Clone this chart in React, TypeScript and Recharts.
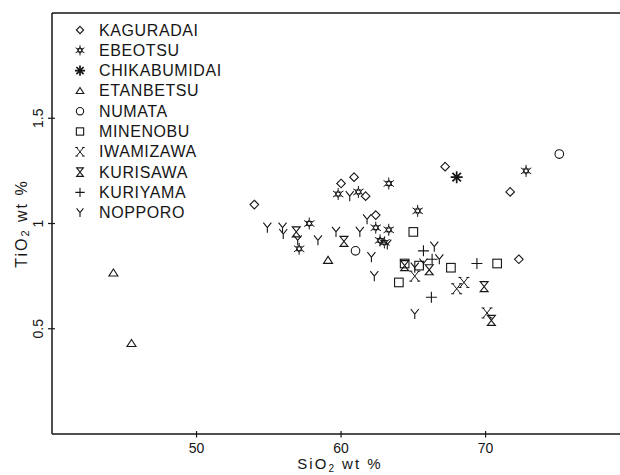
import { ScatterChart, Scatter, XAxis, YAxis, ReferenceLine, Legend } from 'recharts'

type Pt = { x: number; y: number }

const INK = '#161616'
const FONT = '"Liberation Sans", Arial, sans-serif'

const kaguradai: Pt[] = [
  { x: 54.0, y: 1.09 }, { x: 60.0, y: 1.19 }, { x: 60.9, y: 1.22 }, { x: 61.7, y: 1.13 },
  { x: 62.4, y: 1.04 }, { x: 67.2, y: 1.27 }, { x: 71.7, y: 1.15 }, { x: 72.3, y: 0.83 }
]
const ebeotsu: Pt[] = [
  { x: 57.1, y: 0.88 }, { x: 57.8, y: 1.0 }, { x: 59.8, y: 1.14 }, { x: 61.2, y: 1.15 },
  { x: 63.3, y: 1.19 }, { x: 62.4, y: 0.98 }, { x: 63.3, y: 0.97 }, { x: 62.7, y: 0.92 },
  { x: 63.0, y: 0.91 }, { x: 65.3, y: 1.06 }, { x: 72.8, y: 1.25 }
]
const chikabumidai: Pt[] = [{ x: 68.0, y: 1.22 }]
const etanbetsu: Pt[] = [{ x: 44.25, y: 0.765 }, { x: 45.5, y: 0.43 }, { x: 59.1, y: 0.825 }]
const numata: Pt[] = [{ x: 61.0, y: 0.87 }, { x: 75.1, y: 1.33 }]
const minenobu: Pt[] = [
  { x: 65.0, y: 0.96 }, { x: 64.0, y: 0.72 }, { x: 67.6, y: 0.79 }, { x: 70.8, y: 0.81 },
  { x: 65.4, y: 0.8 }, { x: 64.4, y: 0.81 }
]
const iwamizawa: Pt[] = [{ x: 65.1, y: 0.75 }, { x: 68.0, y: 0.69 }, { x: 68.5, y: 0.72 }, { x: 70.1, y: 0.575 }]
const kurisawa: Pt[] = [
  { x: 56.9, y: 0.96 }, { x: 60.2, y: 0.915 }, { x: 64.4, y: 0.8 }, { x: 66.1, y: 0.78 },
  { x: 69.9, y: 0.7 }, { x: 70.4, y: 0.54 }
]
const kuriyama: Pt[] = [{ x: 65.7, y: 0.87 }, { x: 66.3, y: 0.83 }, { x: 69.4, y: 0.81 }, { x: 66.25, y: 0.65 }]
const nopporo: Pt[] = [
  { x: 54.9, y: 0.98 }, { x: 55.95, y: 0.98 }, { x: 56.0, y: 0.95 }, { x: 57.0, y: 0.92 },
  { x: 58.4, y: 0.92 }, { x: 59.65, y: 0.96 }, { x: 61.3, y: 0.96 }, { x: 62.1, y: 0.84 },
  { x: 62.3, y: 0.75 }, { x: 60.6, y: 1.13 }, { x: 61.8, y: 1.02 }, { x: 63.2, y: 0.9 },
  { x: 66.45, y: 0.89 }, { x: 66.8, y: 0.83 }, { x: 65.1, y: 0.79 }, { x: 65.1, y: 0.57 },
  { x: 65.7, y: 0.81 }
]

const xTicks = [50, 60, 70]
const yTicks = [0.5, 1, 1.5]

const series = [
  { name: 'KAGURADAI', kind: 'diamond', data: kaguradai },
  { name: 'EBEOTSU', kind: 'star', data: ebeotsu },
  { name: 'CHIKABUMIDAI', kind: 'asterisk', data: chikabumidai },
  { name: 'ETANBETSU', kind: 'triangle', data: etanbetsu },
  { name: 'NUMATA', kind: 'circle', data: numata },
  { name: 'MINENOBU', kind: 'square', data: minenobu },
  { name: 'IWAMIZAWA', kind: 'cross', data: iwamizawa },
  { name: 'KURISAWA', kind: 'hourglass', data: kurisawa },
  { name: 'KURIYAMA', kind: 'plus', data: kuriyama },
  { name: 'NOPPORO', kind: 'y', data: nopporo }
]

function Mark({ kind, cx, cy, k = 1 }: { kind: string; cx: number; cy: number; k?: number }) {
  const s = { fill: 'none', stroke: INK, strokeWidth: 1.1 }
  const p = (pts: number[][]) => pts.map((q, i) => `${i ? 'L' : 'M'}${cx + q[0] * k},${cy + q[1] * k}`).join('')
  switch (kind) {
    case 'diamond':
      return <path d={p([[0, -4.3], [4.3, 0], [0, 4.3], [-4.3, 0]]) + 'Z'} {...s} />
    case 'circle':
      return <circle cx={cx} cy={cy} r={4.3 * k} {...s} />
    case 'square':
      return <rect x={cx - 4.3 * k} y={cy - 4.3 * k} width={8.6 * k} height={8.6 * k} {...s} />
    case 'triangle':
      return <path d={p([[0, -4], [4.5, 3], [-4.5, 3]]) + 'Z'} {...s} />
    case 'plus':
      return <path d={p([[-5.5, 0], [5.5, 0]]) + p([[0, -5.5], [0, 5.5]])} {...s} />
    case 'y':
      return <path d={p([[-4, -5], [0, 0], [4, -5]]) + p([[0, 0], [0, 5]])} {...s} />
    case 'hourglass':
      return <path d={p([[-4, -5], [4, -5], [-4, 5], [4, 5]]) + 'Z'} {...s} />
    case 'cross':
      return (
        <path
          d={p([[-4, -5], [4, 5]]) + p([[4, -5], [-4, 5]]) +
            p([[-5.5, -5], [-2.5, -5]]) + p([[2.5, -5], [5.5, -5]]) +
            p([[-5.5, 5], [-2.5, 5]]) + p([[2.5, 5], [5.5, 5]])}
          {...s}
          strokeWidth={1}
        />
      )
    case 'asterisk': {
      const d = [0, 45, 90, 135].map(a => {
        const r = 6
        const dx = r * Math.cos((a * Math.PI) / 180)
        const dy = r * Math.sin((a * Math.PI) / 180)
        return p([[-dx, -dy], [dx, dy]])
      }).join('')
      return <path d={d} fill="none" stroke={INK} strokeWidth={1.7} />
    }
    case 'star': {
      const tri = (o: number) => [0, 120, 240].map(a => {
        const t = ((a + o - 90) * Math.PI) / 180
        return [3.8 * Math.cos(t), 3.8 * Math.sin(t)]
      })
      const rays = [0, 60, 120, 180, 240, 300].map(a => {
        const t = ((a - 90) * Math.PI) / 180
        return p([[3.8 * Math.cos(t), 3.8 * Math.sin(t)], [6 * Math.cos(t), 6 * Math.sin(t)]])
      }).join('')
      return <path d={p(tri(0)) + 'Z' + p(tri(60)) + 'Z' + rays} {...s} strokeWidth={1} />
    }
    default:
      return null
  }
}

function XTick(props: any) {
  const { x, y, payload } = props
  return (
    <g>
      <line x1={x} y1={y - 3} x2={x} y2={y + 3.5} stroke={INK} strokeWidth={1.2} />
      <text x={x} y={y + 19} textAnchor="middle" fontSize={14} fontFamily={FONT} fill={INK}>
        {payload.value}
      </text>
    </g>
  )
}

function YTick(props: any) {
  const { y, payload } = props
  return (
    <g>
      <line x1={48} y1={y} x2={55} y2={y} stroke={INK} strokeWidth={1.2} />
      <text
        x={38}
        y={y}
        transform={`rotate(-90 38 ${y})`}
        textAnchor="middle"
        dominantBaseline="central"
        fontSize={14}
        fontFamily={FONT}
        fill={INK}
      >
        {payload.value}
      </text>
    </g>
  )
}

function XLabel(props: any) {
  const { viewBox } = props
  const x = viewBox.x + 288
  const y = viewBox.y + 35
  return (
    <text x={x} y={y} textAnchor="middle" fontSize={15} fontFamily={FONT} fill={INK} letterSpacing={2}>
      SiO<tspan fontSize={10} dy={3}>2</tspan>
      <tspan dy={-3}>{'  wt %'}</tspan>
    </text>
  )
}

function YLabel(props: any) {
  const { viewBox } = props
  const x = 21
  const y = viewBox.y + viewBox.height / 2
  return (
    <text
      x={x}
      y={y}
      transform={`rotate(-90 ${x} ${y})`}
      textAnchor="middle"
      dominantBaseline="central"
      fontSize={16}
      fontFamily={FONT}
      fill={INK}
      letterSpacing={2}
    >
      TiO<tspan fontSize={11} dy={4}>2</tspan>
      <tspan dy={-4}>{'  wt %'}</tspan>
    </text>
  )
}

function LegendBox() {
  return (
    <svg width={200} height={210}>
      {series.map((s, i) => {
        const cy = 12 + i * 20.3
        return (
          <g key={s.name}>
            <Mark kind={s.kind} cx={10} cy={cy} k={0.85} />
            <text
              x={29}
              y={cy}
              dominantBaseline="central"
              fontSize={16}
              fontFamily={FONT}
              letterSpacing={0.6}
              fill={INK}
            >
              {s.name}
            </text>
          </g>
        )
      })}
    </svg>
  )
}

export default function App() {
  return (
    <div style={{ position: 'absolute', left: 0, top: 0, width: 620, height: 475, background: '#fff' }}>
      <ScatterChart width={620} height={475} margin={{ top: 13, right: 0, bottom: 0, left: 0 }}>
        <XAxis
          type="number"
          dataKey="x"
          domain={[40, 79.3]}
          ticks={xTicks}
          allowDataOverflow
          height={41}
          tickSize={0}
          tickMargin={0}
          tickLine={false}
          axisLine={{ stroke: INK, strokeWidth: 1.5 }}
          tick={<XTick />}
          label={<XLabel />}
        />
        <YAxis
          type="number"
          dataKey="y"
          domain={[0, 2]}
          ticks={yTicks}
          allowDataOverflow
          width={52}
          tickSize={0}
          tickMargin={0}
          tickLine={false}
          axisLine={{ stroke: INK, strokeWidth: 1.5 }}
          tick={<YTick />}
          label={<YLabel />}
        />
        <ReferenceLine y={2} stroke={INK} strokeWidth={1.5} />
        <Legend
          layout="vertical"
          align="center"
          verticalAlign="middle"
          wrapperStyle={{ left: 70, top: 18, width: 200 }}
          content={() => <LegendBox />}
        />
        {series.map(s => (
          <Scatter
            key={s.name}
            name={s.name}
            data={s.data}
            isAnimationActive={false}
            shape={(p: any) => <Mark kind={s.kind} cx={p.cx} cy={p.cy} />}
          />
        ))}
      </ScatterChart>
    </div>
  )
}
